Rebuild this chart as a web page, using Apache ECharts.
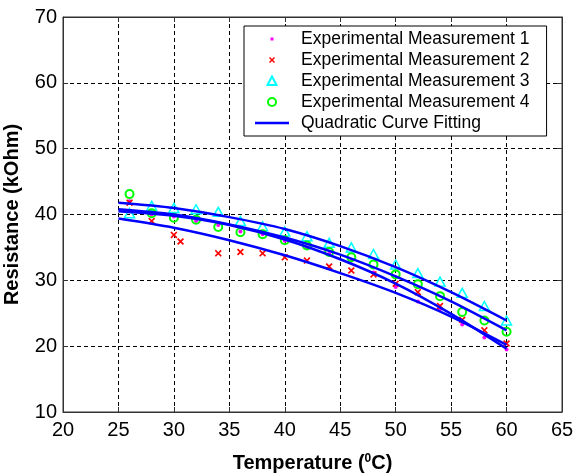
<!DOCTYPE html>
<html>
<head>
<meta charset="utf-8">
<script src="https://cdn.jsdelivr.net/npm/echarts@6/dist/echarts.min.js"></script>
<style>html,body{margin:0;padding:0;background:#fff}#c{width:573px;height:473px}</style>
</head>
<body>
<div id="c"></div>
<script>
// Data
var temps = [26, 28, 30, 32, 34, 36, 38, 40, 42, 44, 46, 48, 50, 52, 54, 56, 58, 60];
var meas1 = [42.0, 40.0, 39.7, 39.0, 38.4, 37.4, 37.0, 36.0, 35.0, 34.0, 33.0, 31.2, 29.0, 26.8, 25.6, 23.3, 21.3, 19.5];
var temps2 = [26, 28, 30, 30.6, 34, 36, 38, 40, 42, 44, 46, 48, 50, 52, 54, 56, 58, 60];
var meas2 = [41.8, 39.0, 36.9, 35.9, 34.1, 34.3, 34.1, 33.5, 33.0, 32.1, 31.5, 30.9, 29.5, 28.2, 26.1, 24.0, 22.4, 20.4];
var meas3 = [40.2, 41.3, 41.0, 40.8, 40.4, 39.0, 38.2, 37.4, 36.7, 35.7, 35.0, 34.0, 32.4, 31.1, 29.8, 28.1, 26.1, 23.9];
var meas4 = [43.1, 40.2, 39.5, 39.2, 38.1, 37.3, 37.0, 36.1, 35.3, 34.3, 33.5, 32.4, 30.9, 29.4, 27.6, 25.2, 23.9, 22.2];
var fitTemps = [25, 30, 35, 40, 45, 50, 55, 60];
var fit3 = [41.8, 41.0, 39.6, 37.8, 35.2, 32.0, 28.2, 23.9];
var fit4 = [40.8, 40.0, 38.5, 36.5, 33.9, 30.6, 26.8, 22.4];
var fit1 = [40.5, 39.8, 38.4, 36.2, 33.2, 29.5, 24.9, 19.6];
var fit2 = [39.4, 38.0, 36.1, 33.8, 31.1, 28.1, 24.5, 20.2];
var xTicks = {min: 20, max: 65, step: 5};
var yTicks = {min: 10, max: 70, step: 10};
var names = ['Experimental Measurement 1', 'Experimental Measurement 2', 'Experimental Measurement 3', 'Experimental Measurement 4', 'Quadratic Curve Fitting'];

function pairs(xs, ys) { return xs.map(function (x, i) { return [x, ys[i]]; }); }

var FONT = '"Liberation Sans", Arial, sans-serif';
var chart = echarts.init(document.getElementById('c'), null, {renderer: 'canvas'});

var dash = {color: '#000', width: 1, type: [4, 3]};
function fitSeries(d) {
  return {
    type: 'line', name: names[4], data: pairs(fitTemps, d), smooth: 0.3,
    symbol: 'none', lineStyle: {color: '#0000ff', width: 2.5}, itemStyle: {color: '#0000ff'},
    z: 5, silent: true
  };
}
var xPath = 'path://M4,5 L5,4 L7,6 L9,4 L10,5 L8,7 L10,9 L9,10 L7,8 L5,10 L4,9 L6,7 Z';

var option = {
  animation: false,
  backgroundColor: '#fff',
  grid: {left: 63, right: 11, top: 17, bottom: 61, show: true, borderColor: '#333', borderWidth: 1,
         containLabel: false, outerBoundsMode: 'none'},
  xAxis: [{
    type: 'value', min: xTicks.min, max: xTicks.max, interval: xTicks.step,
    axisLine: {show: true, lineStyle: {color: '#333'}},
    axisTick: {inside: true, length: 5, lineStyle: {color: '#333'}},
    axisLabel: {fontSize: 20, color: '#000', fontFamily: FONT, margin: 8},
    splitLine: {show: true, lineStyle: dash},
    name: '{a|Temperature (}{s|0}{a|C)}', nameLocation: 'middle', nameGap: 41,
    nameTextStyle: {rich: {
      a: {fontSize: 20, fontWeight: 'bold', color: '#000', fontFamily: FONT},
      s: {fontSize: 12, fontWeight: 'bold', color: '#000', fontFamily: FONT, verticalAlign: 'top'}
    }}
  }, {
    type: 'value', position: 'top', min: xTicks.min, max: xTicks.max, interval: xTicks.step,
    axisLine: {show: true, lineStyle: {color: '#333'}},
    axisTick: {inside: true, length: 5, lineStyle: {color: '#333'}},
    axisLabel: {show: false}, splitLine: {show: false}
  }],
  yAxis: [{
    type: 'value', min: yTicks.min, max: yTicks.max, interval: yTicks.step,
    axisLine: {show: true, lineStyle: {color: '#333'}},
    axisTick: {show: true, inside: true, length: 5, lineStyle: {color: '#333'}},
    axisLabel: {fontSize: 20, color: '#000', fontFamily: FONT, margin: 6},
    splitLine: {show: true, lineStyle: dash},
    name: 'Resistance (kOhm)', nameLocation: 'middle', nameGap: 41,
    nameTextStyle: {fontSize: 20, fontWeight: 'bold', color: '#000', fontFamily: FONT}
  }, {
    type: 'value', position: 'right', min: yTicks.min, max: yTicks.max, interval: yTicks.step,
    axisLine: {show: true, lineStyle: {color: '#333'}},
    axisTick: {show: true, inside: true, length: 5, lineStyle: {color: '#333'}},
    axisLabel: {show: false}, splitLine: {show: false}
  }],
  legend: {
    orient: 'vertical', left: 244, top: 26, padding: [4, 17, 4, 11],
    itemWidth: 34, itemHeight: 14, itemGap: 3,
    backgroundColor: '#fff', borderColor: '#000', borderWidth: 1, borderRadius: 0,
    selectedMode: false,
    textStyle: {fontSize: 17.5, color: '#000', fontFamily: FONT, padding: [0, 0, 0, 7]},
    data: [
      {name: names[0], icon: 'path://M0,0 M14,14 M5.5,5.5 L8.5,5.5 L8.5,8.5 L5.5,8.5 Z'},
      {name: names[1], icon: 'path://M0,0 M14,14 M4,5 L5,4 L7,6 L9,4 L10,5 L8,7 L10,9 L9,10 L7,8 L5,10 L4,9 L6,7 Z'},
      {name: names[2], icon: 'path://M0,0 M14,14 M7,2.5 L11.5,11 L2.5,11 Z'},
      {name: names[3], icon: 'path://M0,0 M14,14 M11,7 A4,4 0 1 1 3,7 A4,4 0 1 1 11,7 Z'},
      {name: names[4], icon: 'path://M0,0 M34,14 M0,5.75 L34,5.75 L34,8.25 L0,8.25 Z'}
    ]
  },
  series: [
    {type: 'scatter', name: names[0], data: pairs(temps, meas1), symbol: 'circle', symbolSize: 4,
     itemStyle: {color: '#ff00ff', opacity: 1}, z: 2, silent: true},
    {type: 'scatter', name: names[1], data: pairs(temps2, meas2), symbol: xPath, symbolSize: 7,
     itemStyle: {color: '#ff0000', opacity: 1}, z: 2, silent: true},
    {type: 'scatter', name: names[2], data: pairs(temps, meas3), symbol: 'triangle', symbolSize: [10, 9],
     itemStyle: {color: 'rgba(0,0,0,0)', borderColor: '#00ffff', borderWidth: 1.5, opacity: 1}, z: 3, silent: true},
    {type: 'scatter', name: names[3], data: pairs(temps, meas4), symbol: 'circle', symbolSize: 8,
     itemStyle: {color: 'rgba(0,0,0,0)', borderColor: '#00ff00', borderWidth: 2, opacity: 1}, z: 3, silent: true},
    fitSeries(fit3), fitSeries(fit4), fitSeries(fit1), fitSeries(fit2)
  ]
};
chart.setOption(option);
</script>
</body>
</html>
